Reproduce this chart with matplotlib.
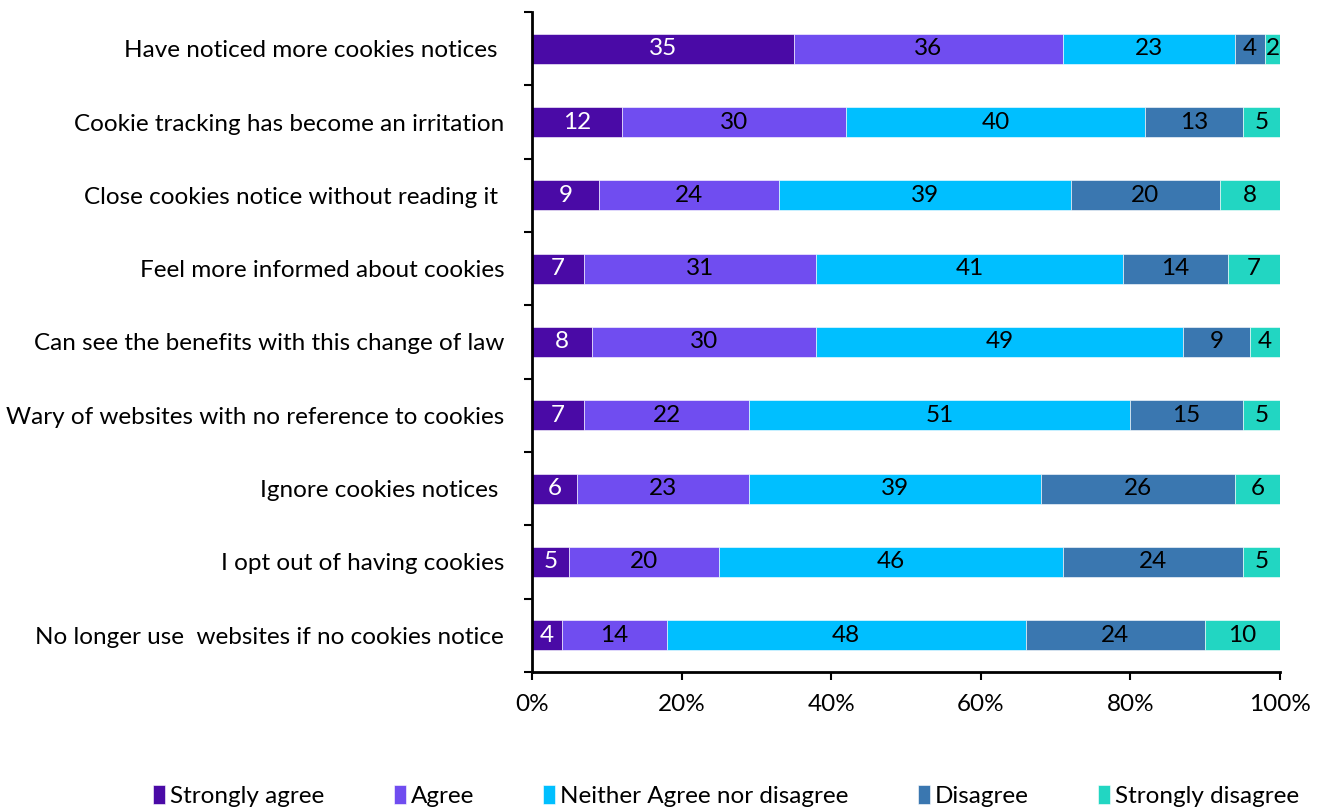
import numpy as np
import matplotlib.pyplot as plt
from matplotlib.ticker import FixedLocator, PercentFormatter

statements = ["Have noticed more cookies notices ",
              "Cookie tracking has become an irritation",
              "Close cookies notice without reading it ",
              "Feel more informed about cookies",
              "Can see the benefits with this change of law",
              "Wary of websites with no reference to cookies",
              "Ignore cookies notices ",
              "I opt out of having cookies",
              "No longer use  websites if no cookies notice"]

strongly_agree = [35, 12, 9, 7, 8, 7, 6, 5, 4]
agree = [36, 30, 24, 31, 30, 22, 23, 20, 14]
neither = [23, 40, 39, 41, 49, 51, 39, 46, 48]
disagree = [4, 13, 20, 14, 9, 15, 26, 24, 24]
strongly_disagree = [2, 5, 8, 7, 4, 5, 6, 5, 10]

names = ["Strongly agree", "Agree", "Neither Agree nor disagree",
         "Disagree", "Strongly disagree"]
colors = ["#4a0aa6", "#704df0", "#00bfff", "#3a77b0", "#22d6c2"]
text_colors = ["white", "black", "black", "black", "black"]

plt.rcParams['font.family'] = ['Lato', 'DejaVu Sans']
FS = 17.5

fig = plt.figure(figsize=(13.25, 8.11), dpi=100)
ax = fig.add_axes([0.4015, 0.1714, 0.5645, 0.8138])

series = [strongly_agree, agree, neither, disagree, strongly_disagree]
y = np.arange(len(statements))
left = np.zeros(len(statements))
for vals, name, col, tc in zip(series, names, colors, text_colors):
    vals = np.array(vals, dtype=float)
    ax.barh(y, vals, left=left, height=0.41, color=col, label=name,
            edgecolor="white", linewidth=0.4)
    for yi, l, v in zip(y, left, vals):
        ax.text(l + v / 2, yi, "%d" % v, ha="center", va="center",
                color=tc, fontsize=FS)
    left += vals

ax.set_xlim(0, 100)
ax.set_ylim(len(statements) - 0.5, -0.5)
ax.set_yticks(y)
ax.set_yticklabels(statements, fontsize=FS)
ax.yaxis.set_minor_locator(FixedLocator(np.arange(-0.5, len(statements), 1.0)))
ax.tick_params(axis="y", which="major", length=0, pad=20)
ax.tick_params(axis="y", which="minor", length=6, width=1.5, direction="out")
ax.set_xticks(np.arange(0, 101, 20))
ax.xaxis.set_major_formatter(PercentFormatter(decimals=0))
ax.tick_params(axis="x", length=6, width=1.5, direction="out",
               labelsize=FS, pad=10)

for s in ["top", "right"]:
    ax.spines[s].set_visible(False)
for s in ["left", "bottom"]:
    ax.spines[s].set_linewidth(2)

fig.legend(loc="lower center", bbox_to_anchor=(0.548, -0.022), ncol=5,
           frameon=False, fontsize=FS, handlelength=0.5, handleheight=0.8,
           handletextpad=0.2, columnspacing=2.85)

fig.savefig("out.png", dpi=100)
